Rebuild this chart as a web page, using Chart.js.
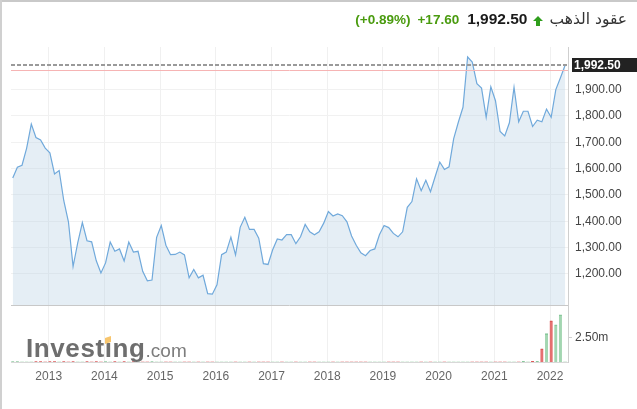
<!DOCTYPE html>
<html>
<head>
<meta charset="utf-8">
<script src="https://cdn.jsdelivr.net/npm/chart.js@4.4.1/dist/chart.umd.min.js"></script>
<style>
  html, body { margin: 0; padding: 0; background: #fff; }
  #wrap { position: relative; width: 637px; height: 409px; overflow: hidden; font-family: Arial, "Liberation Sans", sans-serif; }
  #chart { position: absolute; left: 0; top: 0; }
  #frameTop { position: absolute; left: 0; top: 0; width: 637px; height: 2px; background: #c9c9c9; }
  #frameLeft { position: absolute; left: 0; top: 0; width: 2px; height: 409px; background: #d0d0d0; }
  #quote { position: absolute; top: 9px; right: 10px; height: 20px; display: flex; align-items: center; white-space: nowrap; }
  #quote .pct, #quote .chg { color: #4a9b0f; font-weight: bold; font-size: 13.5px; }
  #quote .chg { margin-left: 7px; }
  #quote .last { color: #1a1a1a; font-weight: bold; font-size: 15.5px; margin-left: 8px; }
  #quote svg { margin-left: 5px; margin-top: 4px; }
  #quote .name { color: #333; font-size: 15.5px; margin-left: 7px; font-family: "DejaVu Sans", sans-serif; }
  #logo { position: absolute; left: 26px; top: 335px; line-height: 26px; white-space: nowrap; }
  #logo .b { font-size: 26px; font-weight: bold; color: #6e6e6e; letter-spacing: 0.6px; }
  #logo .c { font-size: 19px; color: #7d7d7d; }
  #logoDot { position: absolute; left: 105px; top: 337px; width: 6px; height: 6px; background: #f7c56d; transform: skewY(-20deg); }
</style>
</head>
<body>
<div id="wrap">
  <canvas id="chart" width="637" height="409"></canvas>
  <div id="frameTop"></div>
  <div id="frameLeft"></div>
  <div id="quote">
    <span class="pct">(+0.89%)</span>
    <span class="chg">+17.60</span>
    <span class="last">1,992.50</span>
    <svg width="10" height="10" viewBox="0 0 10 10"><polygon points="5,0 10,5 7,5 7,10 3,10 3,5 0,5" fill="#2f9e1c"/></svg>
    <span class="name" dir="rtl">عقود الذهب</span>
  </div>
  <div id="logo"><span class="b">Investıng</span><span class="c">.com</span></div>
  <div id="logoDot"></div>
</div>
<script>
// monthly points, May 2012 .. Apr 2022
const months = [
  '2012-05', '2012-06', '2012-07', '2012-08', '2012-09', '2012-10', '2012-11', '2012-12',
  '2013-01', '2013-02', '2013-03', '2013-04', '2013-05', '2013-06', '2013-07', '2013-08', '2013-09', '2013-10', '2013-11', '2013-12',
  '2014-01', '2014-02', '2014-03', '2014-04', '2014-05', '2014-06', '2014-07', '2014-08', '2014-09', '2014-10', '2014-11', '2014-12',
  '2015-01', '2015-02', '2015-03', '2015-04', '2015-05', '2015-06', '2015-07', '2015-08', '2015-09', '2015-10', '2015-11', '2015-12',
  '2016-01', '2016-02', '2016-03', '2016-04', '2016-05', '2016-06', '2016-07', '2016-08', '2016-09', '2016-10', '2016-11', '2016-12',
  '2017-01', '2017-02', '2017-03', '2017-04', '2017-05', '2017-06', '2017-07', '2017-08', '2017-09', '2017-10', '2017-11', '2017-12',
  '2018-01', '2018-02', '2018-03', '2018-04', '2018-05', '2018-06', '2018-07', '2018-08', '2018-09', '2018-10', '2018-11', '2018-12',
  '2019-01', '2019-02', '2019-03', '2019-04', '2019-05', '2019-06', '2019-07', '2019-08', '2019-09', '2019-10', '2019-11', '2019-12',
  '2020-01', '2020-02', '2020-03', '2020-04', '2020-05', '2020-06', '2020-07', '2020-08', '2020-09', '2020-10', '2020-11', '2020-12',
  '2021-01', '2021-02', '2021-03', '2021-04', '2021-05', '2021-06', '2021-07', '2021-08', '2021-09', '2021-10', '2021-11', '2021-12',
  '2022-01', '2022-02', '2022-03', '2022-04'
];
const prices = [
  1564, 1605, 1613, 1678, 1769, 1718, 1709, 1678,
  1660, 1580, 1593, 1478, 1398, 1228, 1318, 1395, 1326, 1322, 1250, 1204,
  1242, 1321, 1286, 1295, 1249, 1321, 1283, 1286, 1210, 1174, 1177, 1339,
  1384, 1309, 1273, 1274, 1283, 1272, 1185, 1217, 1185, 1195, 1125, 1123,
  1159, 1273, 1283, 1340, 1272, 1377, 1415, 1369, 1369, 1336, 1239, 1236,
  1292, 1333, 1329, 1349, 1349, 1315, 1341, 1388, 1360, 1349, 1360, 1393,
  1437, 1420, 1428, 1421, 1398, 1344, 1309, 1280, 1269, 1289, 1295, 1349,
  1384, 1376, 1354, 1341, 1360, 1453, 1475, 1561, 1516, 1556, 1512, 1569,
  1625, 1597, 1607, 1714, 1776, 1833, 2024, 2005, 1923, 1906, 1795, 1911,
  1858, 1741, 1724, 1774, 1909, 1778, 1818, 1818, 1760, 1784, 1778, 1826,
  1795, 1900, 1945, 1992.5
];
// volume in millions
const volumes = [
  0.05, 0.05, 0, 0, 0, 0.05, 0.05, 0,
  0.05, 0.05, 0, 0.05, 0, 0.05, 0, 0, 0.05, 0, 0.05, 0,
  0.05, 0, 0.05, 0, 0.05, 0, 0.05, 0, 0, 0, 0.05, 0,
  0, 0, 0, 0, 0, 0, 0, 0, 0, 0, 0, 0,
  0, 0, 0, 0, 0, 0, 0, 0, 0, 0, 0, 0,
  0, 0, 0, 0, 0, 0, 0, 0, 0, 0, 0, 0,
  0, 0, 0, 0, 0, 0, 0, 0, 0, 0, 0, 0,
  0, 0, 0, 0, 0, 0, 0, 0, 0, 0, 0, 0,
  0, 0, 0, 0, 0, 0, 0, 0, 0, 0, 0, 0,
  0, 0, 0, 0, 0, 0, 0.06, 0, 0.06, 0.06, 1.35, 2.88,
  4.2, 3.79, 4.81, 0
];
const lastPrice = 1992.5;
const prevClose = 1974.9;
const priceTicks = [1200, 1300, 1400, 1500, 1600, 1700, 1800, 1900];
const volumeTicks = [2.5];
const yearTicks = [2013, 2014, 2015, 2016, 2017, 2018, 2019, 2020, 2021, 2022];

const FONT = 'Arial, "Liberation Sans", sans-serif';
Chart.defaults.font.family = FONT;

/** month label -> fractional year, plotted a week into the month */
const monthX = months.map((m) => {
    const [yr, mo] = m.split('-').map(Number);
    return yr + (mo - 1 + 0.25) / 12;
});
const fmtPrice = (v) => v.toLocaleString('en-US', { minimumFractionDigits: 2, maximumFractionDigits: 2 });
const barColors = prices.map((p, i) => (i === 0 || p >= prices[i - 1] ? 'rgba(140,204,158,0.8)' : 'rgba(226,96,96,0.9)'));
const barTops = prices.map((p, i) => (i === 0 || p >= prices[i - 1] ? '#86c59a' : '#d65050'));

const overlayPlugin = {
    id: 'overlay',
    afterDatasetsDraw(chart) {
        const { ctx, chartArea } = chart;
        const y = chart.scales.y;
        ctx.save();
        // line between price and volume panes
        const sy = Math.round(y.bottom) + 0.5;
        ctx.strokeStyle = '#c8c8c8';
        ctx.lineWidth = 1;
        ctx.beginPath();
        ctx.moveTo(chartArea.left, sy);
        ctx.lineTo(chartArea.right, sy);
        ctx.stroke();
        // previous close
        const py = Math.round(y.getPixelForValue(prevClose)) + 0.5;
        ctx.strokeStyle = '#f6b4b4';
        ctx.beginPath();
        ctx.moveTo(chartArea.left, py);
        ctx.lineTo(chartArea.right, py);
        ctx.stroke();
        // last price
        const ly = Math.round(y.getPixelForValue(lastPrice));
        ctx.setLineDash([4, 2]);
        ctx.lineWidth = 2;
        ctx.strokeStyle = '#9a9a9a';
        ctx.beginPath();
        ctx.moveTo(chartArea.left, ly);
        ctx.lineTo(chartArea.right, ly);
        ctx.stroke();
        ctx.setLineDash([]);
        ctx.fillStyle = '#222';
        ctx.fillRect(y.left + 4, ly - 7, chart.width - y.left - 4, 14);
        ctx.fillStyle = '#fff';
        ctx.font = 'bold 12px ' + FONT;
        ctx.textBaseline = 'middle';
        ctx.textAlign = 'left';
        ctx.fillText(fmtPrice(lastPrice), y.left + 6, ly + 0.5);
        ctx.restore();
    },
};

new Chart(document.getElementById('chart'), {
    type: 'line',
    data: {
        datasets: [
            {
                type: 'line',
                data: prices.map((v, i) => ({ x: monthX[i], y: v })),
                yAxisID: 'y',
                borderColor: '#70a9db',
                borderWidth: 1.2,
                backgroundColor: 'rgba(180,205,225,0.35)',
                fill: 'start',
                pointRadius: 0,
                tension: 0,
            },
            {
                type: 'bar',
                data: volumes.map((v, i) => ({ x: monthX[i], y: v })),
                yAxisID: 'vol',
                backgroundColor: barColors,
                borderColor: barTops,
                borderWidth: { top: 1, left: 0, right: 0, bottom: 0 },
                borderSkipped: 'bottom',
                barThickness: 3,
            },
        ],
    },
    options: {
        responsive: false,
        animation: false,
        devicePixelRatio: 1,
        layout: { padding: { left: 11, top: 47, right: 0, bottom: 0 } },
        plugins: { legend: { display: false }, tooltip: { enabled: false } },
        scales: {
            x: {
                type: 'linear',
                offset: false,
                min: 2012.323,
                max: 2022.323,
                afterBuildTicks: (s) => { s.ticks = yearTicks.map((v) => ({ value: v })); },
                afterFit: (s) => { s.height = 47; },
                grid: { color: '#f0f0f0', drawTicks: false, offset: false },
                border: { color: '#d8d8d8' },
                ticks: { padding: 7, color: '#666', font: { size: 12 }, maxRotation: 0, callback: (v) => String(v) },
            },
            y: {
                position: 'right',
                stack: 'panes',
                stackWeight: 258,
                min: 1082,
                max: 2062,
                afterBuildTicks: (s) => { s.ticks = priceTicks.map((v) => ({ value: v })); },
                afterFit: (s) => { s.width = 69; },
                grid: { color: '#f1f1f1', drawTicks: false },
                border: { color: '#cfcfcf' },
                ticks: { padding: 7, color: '#444', font: { size: 12 }, callback: (v) => fmtPrice(v) },
            },
            vol: {
                position: 'right',
                stack: 'panes',
                stackWeight: 57,
                min: 0,
                max: 5.8,
                afterBuildTicks: (s) => { s.ticks = volumeTicks.map((v) => ({ value: v })); },
                afterFit: (s) => { s.width = 69; },
                grid: { drawOnChartArea: false, tickLength: 4, color: '#cfcfcf' },
                border: { color: '#cfcfcf' },
                ticks: { padding: 3, color: '#444', font: { size: 12 }, callback: (v) => v.toFixed(2) + 'm' },
            },
        },
    },
    plugins: [overlayPlugin],
});
</script>
</body>
</html>
